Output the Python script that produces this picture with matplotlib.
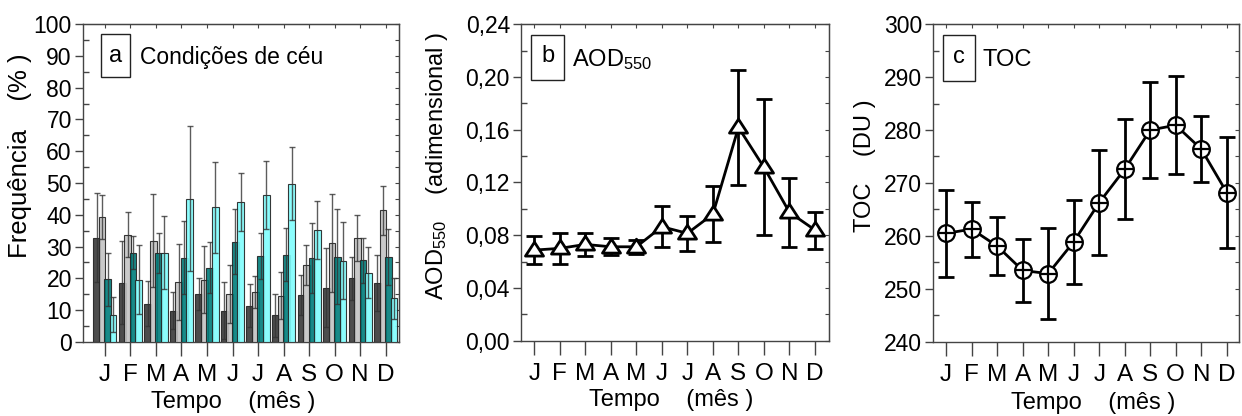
import matplotlib
matplotlib.use("Agg")
import matplotlib.pyplot as plt
import numpy as np
from matplotlib.patches import Rectangle
from matplotlib.path import Path
from matplotlib.ticker import MultipleLocator, FuncFormatter

plt.rcParams['font.family'] = ['Liberation Sans', 'DejaVu Sans']
plt.rcParams['mathtext.default'] = 'regular'

months = ['J', 'F', 'M', 'A', 'M', 'J', 'J', 'A', 'S', 'O', 'N', 'D']

# Panel a: sky condition frequencies (%) for four classes
freq_dark = [32.8, 18.7, 12.1, 9.9, 15.1, 9.9, 11.4, 8.4, 14.9, 17.1, 20.0, 18.5]
freq_dark_err = [14.0, 13.0, 7.0, 5.8, 5.0, 9.0, 6.8, 6.7, 6.3, 12.4, 6.7, 8.9]
freq_light = [39.3, 33.8, 31.9, 18.9, 19.6, 15.1, 15.7, 14.6, 24.3, 31.1, 32.7, 41.5]
freq_light_err = [7.0, 7.0, 14.6, 12.0, 10.6, 9.0, 5.1, 7.4, 6.3, 15.3, 7.3, 7.7]
freq_teal = [19.7, 28.1, 28.1, 26.5, 23.4, 31.5, 27.1, 27.5, 26.4, 26.8, 25.7, 26.7]
freq_teal_err = [8.3, 5.3, 6.3, 11.4, 8.0, 10.2, 7.3, 8.4, 11.1, 15.0, 7.0, 8.9]
freq_cyan = [8.6, 19.6, 28.1, 45.1, 42.3, 44.1, 46.2, 49.8, 35.2, 25.6, 21.8, 13.7]
freq_cyan_err = [5.4, 10.8, 11.4, 22.7, 14.3, 9.2, 10.7, 11.5, 9.0, 12.0, 8.0, 6.5]

# Panel b: AOD550
aod = [0.0687, 0.0700, 0.0730, 0.0712, 0.0712, 0.0864, 0.0814, 0.0960, 0.1617, 0.1314, 0.0973, 0.0839]
aod_err = [0.0105, 0.0115, 0.0088, 0.0065, 0.0053, 0.0155, 0.0135, 0.0210, 0.0436, 0.0515, 0.0260, 0.0140]

# Panel c: TOC (DU)
toc = [260.5, 261.3, 258.1, 253.5, 252.9, 258.9, 266.3, 272.6, 280.0, 280.9, 276.4, 268.2]
toc_err = [8.2, 5.2, 5.4, 6.0, 8.6, 7.9, 9.9, 9.4, 9.0, 9.2, 6.2, 10.5]

x = np.arange(1, 13)

fig = plt.figure(figsize=(12.42, 4.16), dpi=100)
ax_a = fig.add_axes([0.0668, 0.1779, 0.2544, 0.7644])
ax_b = fig.add_axes([0.4195, 0.181, 0.248, 0.761])
ax_c = fig.add_axes([0.7515, 0.1779, 0.2461, 0.7644])

spine_col = '#444444'
XT = 17.5
YT = 16.5
LAB = 17


def style_axes(ax, ymajor, yminor, yfmt=None):
    for s in ax.spines.values():
        s.set_color(spine_col)
        s.set_linewidth(1.0)
    ax.set_xticks(x)
    ax.set_xticklabels(months, fontsize=XT)
    ax.yaxis.set_major_locator(MultipleLocator(ymajor))
    ax.yaxis.set_minor_locator(MultipleLocator(yminor))
    if yfmt is not None:
        ax.yaxis.set_major_formatter(yfmt)
    ax.tick_params(axis='x', which='major', direction='out', length=10, width=1,
                   color=spine_col, pad=6, top=False)
    ax.tick_params(axis='y', which='major', direction='out', length=6, width=1,
                   color=spine_col, labelsize=YT, pad=2, right=False)
    ax.tick_params(axis='y', which='minor', direction='in', length=4, width=1,
                   color=spine_col, right=False)
    sec_y = ax.secondary_yaxis('right')
    sec_y.yaxis.set_major_locator(MultipleLocator(ymajor))
    sec_y.yaxis.set_minor_locator(MultipleLocator(yminor))
    sec_y.tick_params(which='both', direction='in', length=3, width=0.8,
                      color=spine_col, labelright=False)
    sec_y.spines['right'].set_color(spine_col)
    sec_x = ax.secondary_xaxis('top')
    sec_x.set_xticks(x)
    sec_x.tick_params(which='both', direction='in', length=3, width=0.8,
                      color=spine_col, labeltop=False)
    sec_x.spines['top'].set_color(spine_col)


# ---------- Panel a ----------
bw = 0.26
step = 0.215
series = [
    (freq_dark, freq_dark_err, '#3a3a3a'),
    (freq_light, freq_light_err, '#c4c4c4'),
    (freq_teal, freq_teal_err, '#007d7b'),
    (freq_cyan, freq_cyan_err, '#80fdfd'),
]
for i, (vals, errs, col) in enumerate(series):
    off = (i - 1.5) * step
    ax_a.bar(x + off, vals, width=bw, color=col, edgecolor='#222222',
             linewidth=0.8, alpha=0.9, zorder=2 + i)
    ax_a.errorbar(x + off, vals, yerr=errs, fmt='none', ecolor='#333333',
                  elinewidth=1.0, capsize=2.5, capthick=1.0, alpha=0.8,
                  zorder=2 + i)
ax_a.set_xlim(0.14, 12.52)
ax_a.set_ylim(0, 100)
style_axes(ax_a, 10, 5)
ax_a.add_patch(Rectangle((0.057, 0.833), 0.092, 0.135, transform=ax_a.transAxes,
                         fill=False, edgecolor='#222222', linewidth=1.0, zorder=10))
ax_a.text(0.103, 0.9, 'a', transform=ax_a.transAxes, fontsize=17,
          ha='center', va='center', zorder=11)
ax_a.text(0.18, 0.896, 'Condições de céu', transform=ax_a.transAxes, fontsize=16.5,
          ha='left', va='center', zorder=11)
ax_a.text(-0.2, 0.585, 'Frequência    (% )', transform=ax_a.transAxes,
          rotation=90, fontsize=18.5, ha='center', va='center')
ax_a.text(0.475, -0.188, 'Tempo    (mês )', transform=ax_a.transAxes,
          fontsize=LAB, ha='center', va='center')

# ---------- Panel b ----------
comma2 = FuncFormatter(lambda v, p: f'{v:.2f}'.replace('.', ','))
tri = Path([(-1.0, -0.62), (1.0, -0.62), (0.0, 0.92), (-1.0, -0.62)],
           [Path.MOVETO, Path.LINETO, Path.LINETO, Path.CLOSEPOLY])
ax_b.errorbar(x, aod, yerr=aod_err, fmt='none', ecolor='black', elinewidth=2,
              capsize=5.5, capthick=2, zorder=2)
ax_b.plot(x, aod, color='black', linewidth=2, zorder=3)
ax_b.plot(x, aod, linestyle='none', marker=tri, markersize=13,
          markerfacecolor='white', markeredgecolor='black', markeredgewidth=2,
          zorder=4)
ax_b.set_xlim(0.48, 12.55)
ax_b.set_ylim(0, 0.24)
style_axes(ax_b, 0.04, 0.02, comma2)
ax_b.add_patch(Rectangle((0.0325, 0.823), 0.107, 0.142, transform=ax_b.transAxes,
                         fill=False, edgecolor='#222222', linewidth=1.0, zorder=10))
ax_b.text(0.086, 0.898, 'b', transform=ax_b.transAxes, fontsize=17,
          ha='center', va='center', zorder=11)
ax_b.text(0.165, 0.887, 'AOD$_{550}$', transform=ax_b.transAxes, fontsize=17,
          ha='left', va='center', zorder=11)
ax_b.text(-0.274, 0.552, 'AOD$_{550}$    (adimensional )', transform=ax_b.transAxes,
          rotation=90, fontsize=LAB, ha='center', va='center')
ax_b.text(0.486, -0.187, 'Tempo    (mês )', transform=ax_b.transAxes,
          fontsize=LAB, ha='center', va='center')

# ---------- Panel c ----------
ax_c.errorbar(x, toc, yerr=toc_err, fmt='none', ecolor='black', elinewidth=2,
              capsize=5.5, capthick=2, zorder=2)
ax_c.plot(x, toc, color='black', linewidth=2, zorder=3)
ax_c.plot(x, toc, linestyle='none', marker='o', markersize=12,
          markerfacecolor='white', markeredgecolor='black', markeredgewidth=1.6,
          zorder=4)
ax_c.plot(x, toc, linestyle='none', marker='+', markersize=12,
          markeredgecolor='black', markeredgewidth=1.6, zorder=5)
ax_c.set_xlim(0.5, 12.48)
ax_c.set_ylim(240, 300)
style_axes(ax_c, 10, 5)
ax_c.add_patch(Rectangle((0.032, 0.8206), 0.105, 0.145, transform=ax_c.transAxes,
                         fill=False, edgecolor='#222222', linewidth=1.0, zorder=10))
ax_c.text(0.084, 0.897, 'c', transform=ax_c.transAxes, fontsize=17,
          ha='center', va='center', zorder=11)
ax_c.text(0.1616, 0.887, 'TOC', transform=ax_c.transAxes, fontsize=17,
          ha='left', va='center', zorder=11)
ax_c.text(-0.223, 0.553, 'TOC    (DU )', transform=ax_c.transAxes,
          rotation=90, fontsize=LAB, ha='center', va='center')
ax_c.text(0.523, -0.193, 'Tempo    (mês )', transform=ax_c.transAxes,
          fontsize=LAB, ha='center', va='center')

fig.savefig('out.png', dpi=100)
